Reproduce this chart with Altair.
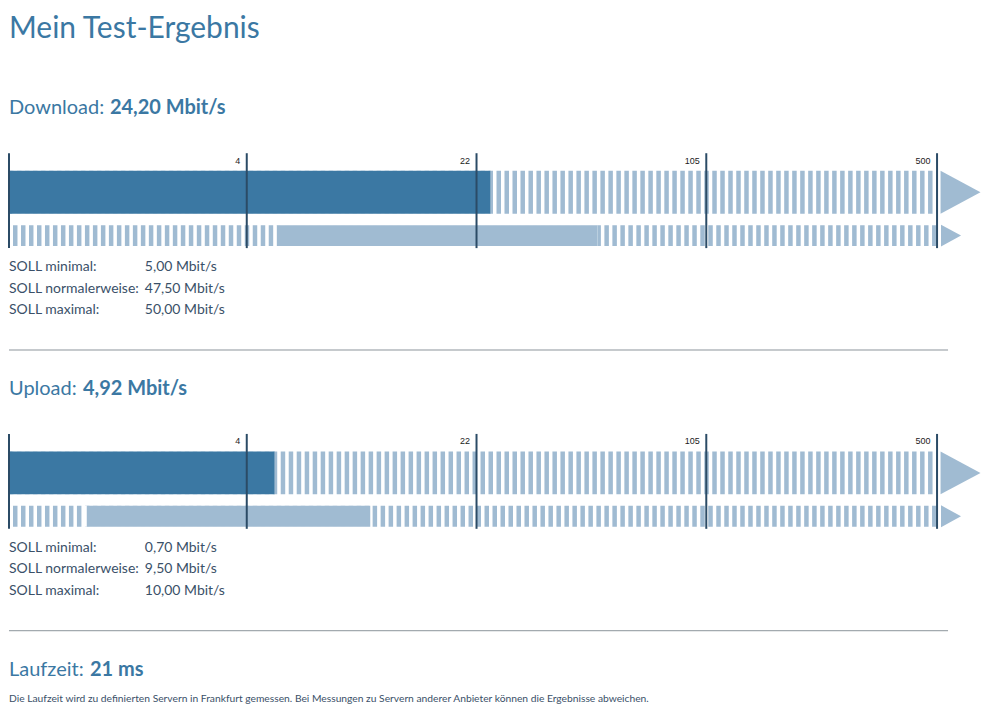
import altair as alt
import pandas as pd

# ---------------- data ----------------
title_text = "Mein Test-Ergebnis"
sections = ["Download", "Upload"]
measured = [24.20, 4.92]          # Mbit/s
soll_min = [5.00, 0.70]
soll_normal = [47.50, 9.50]
soll_max = [50.00, 10.00]
unit = "Mbit/s"
scale_breaks = [0.3, 4, 22, 105, 500]   # piecewise log scale break points
tick_labels = [4, 22, 105, 500]
soll_labels = ["SOLL minimal:", "SOLL normalerweise:", "SOLL maximal:"]
latency_label = "Laufzeit:"
latency_value = 21
latency_unit = "ms"
footnote = ("Die Laufzeit wird zu definierten Servern in Frankfurt gemessen. "
            "Bei Messungen zu Servern anderer Anbieter können die Ergebnisse abweichen.")

# ---------------- style ----------------
FONT = "Lato"
BLUE = "#3b78a3"
LIGHT = "#a0bbd2"
DARK = "#2b4b66"
TEXT = "#3a5068"
GRAY = "#8c949b"
W = 940
BREAK_PX = [0, 238, 468, 698, 929]
BOLD_X = {"Download": 101, "Upload": 74, "Laufzeit": 81}
DASH = [4.5, 3.5]


def de(v):
    return f"{v:.2f}".replace(".", ",")


def heading(label, value, key, height=67, extra=None):
    df = pd.DataFrame({"label": [label], "value": [value]})
    base = alt.Chart(df)
    lab = base.mark_text(align="left", baseline="alphabetic", font=FONT, fontSize=20,
                         color=BLUE).encode(x=alt.value(0), y=alt.value(28), text="label:N")
    val = base.mark_text(align="left", baseline="alphabetic", font=FONT, fontSize=20,
                         fontWeight="bold", color=BLUE).encode(
        x=alt.value(BOLD_X[key]), y=alt.value(28), text="value:N")
    layers = [lab, val]
    if extra is not None:
        layers.append(extra)
    return alt.layer(*layers).properties(width=W, height=height)


def bars(i):
    df = pd.DataFrame({
        "start": [scale_breaks[0]], "end": [scale_breaks[-1]],
        "value": [measured[i]], "smin": [soll_min[i]], "smax": [soll_max[i]],
        "ist": ["ist"], "soll": ["soll"],
    })
    tdf = pd.DataFrame({"tick": scale_breaks})
    xs = alt.Scale(type="log", domain=scale_breaks, range=BREAK_PX, nice=False)
    ys = alt.Scale(type="point", domain=["ist", "soll"], range=[39, 82.5], padding=0)
    xaxis = alt.Axis(orient="top", values=tick_labels, format="d", grid=False,
                     domain=False, ticks=False, tickSize=0, labelPadding=-3,
                     labelBaseline="top", labelAlign="right", labelOffset=-7,
                     labelFont="Liberation Sans", labelFontSize=9,
                     labelColor="#1b1b1b", labelFlush=False, labelOverlap=False,
                     title=None, zindex=1)
    base = alt.Chart(df)
    track_top = base.mark_rule(color=LIGHT, strokeWidth=43, strokeDash=DASH,
                               strokeCap="butt", clip=True).encode(
        x=alt.X("start:Q", scale=xs, axis=xaxis), x2="end:Q",
        y=alt.Y("ist:N", scale=ys, axis=None))
    gap_top = base.mark_rule(color="white", strokeWidth=43, strokeCap="butt",
                             clip=True, xOffset=3).encode(
        x="start:Q", x2="value:Q", y="ist:N")
    bar_top = base.mark_rule(color=BLUE, strokeWidth=43, strokeCap="butt",
                             clip=True).encode(x="start:Q", x2="value:Q", y="ist:N")
    track_bot = base.mark_rule(color=LIGHT, strokeWidth=21, strokeDash=DASH,
                               strokeDashOffset=4, strokeCap="butt", clip=True).encode(
        x="start:Q", x2="end:Q", y="soll:N")
    gap_l = base.mark_rule(color="white", strokeWidth=21, strokeCap="butt",
                           clip=True, xOffset=-3).encode(
        x="smin:Q", x2="smax:Q", y="soll:N")
    gap_r = base.mark_rule(color="white", strokeWidth=21, strokeCap="butt",
                           clip=True, xOffset=3).encode(
        x="smin:Q", x2="smax:Q", y="soll:N")
    bar_bot = base.mark_rule(color=LIGHT, strokeWidth=21, strokeCap="butt",
                             clip=True).encode(x="smin:Q", x2="smax:Q", y="soll:N")
    ticks = alt.Chart(tdf).mark_rule(color=DARK, strokeWidth=2).encode(x="tick:Q")
    arrow_big = base.mark_point(shape="M-0.93,-1L0.93,0L-0.93,1Z", size=1849,
                                filled=True, color=LIGHT, opacity=1, strokeWidth=0,
                                xOffset=23.5).encode(x="end:Q", y="ist:N")
    arrow_small = base.mark_point(shape="M-0.91,-1L0.91,0L-0.91,1Z", size=484,
                                  filled=True, color=LIGHT, opacity=1, strokeWidth=0,
                                  xOffset=14).encode(x="end:Q", y="soll:N")
    return alt.layer(track_top, gap_top, bar_top, track_bot, gap_l, gap_r, bar_bot,
                     ticks, arrow_big, arrow_small).properties(width=W, height=95)


def soll_table(i):
    df = pd.DataFrame({
        "label": soll_labels,
        "val": [f"{de(v)} {unit}" for v in (soll_min[i], soll_normal[i], soll_max[i])],
    })
    ys = alt.Scale(type="point", domain=soll_labels, range=[19, 62], padding=0)
    base = alt.Chart(df)
    lab = base.mark_text(align="left", baseline="middle", font=FONT, fontSize=14,
                         color=TEXT).encode(
        x=alt.value(0), y=alt.Y("label:N", scale=ys, axis=None), text="label:N")
    val = base.mark_text(align="left", baseline="middle", font=FONT, fontSize=14,
                         color=TEXT).encode(
        x=alt.value(136), y=alt.Y("label:N", scale=ys, axis=None), text="val:N")
    return alt.layer(lab, val).properties(width=W, height=88)


def divider():
    df = pd.DataFrame({"d": [0]})
    return alt.Chart(df).mark_rule(color=GRAY, strokeWidth=1).encode(
        y=alt.value(14)).properties(width=W, height=31)


# title panel
tdf = pd.DataFrame({"t": [title_text]})
title_panel = alt.Chart(tdf).mark_text(align="left", baseline="alphabetic", font=FONT,
                                       fontSize=30, color=BLUE).encode(
    x=alt.value(0), y=alt.value(30), text="t:N").properties(width=W, height=78)

panels = [title_panel]
for i, name in enumerate(sections):
    panels.append(heading(f"{name}:", f"{de(measured[i])} {unit}", name))
    panels.append(bars(i))
    panels.append(soll_table(i))
    panels.append(divider())

fdf = pd.DataFrame({"f": [footnote]})
foot = alt.Chart(fdf).mark_text(align="left", baseline="alphabetic", font=FONT,
                                fontSize=10.3, color=TEXT).encode(
    x=alt.value(0), y=alt.value(54), text="f:N")
panels.append(heading(latency_label, f"{latency_value} {latency_unit}", "Laufzeit",
                      height=57, extra=foot))

chart = alt.vconcat(*panels, spacing=0, bounds="flush").properties(
    padding=0
).configure_view(strokeWidth=0)

chart.save("out.html", embed_options={"renderer": "svg", "actions": False})
